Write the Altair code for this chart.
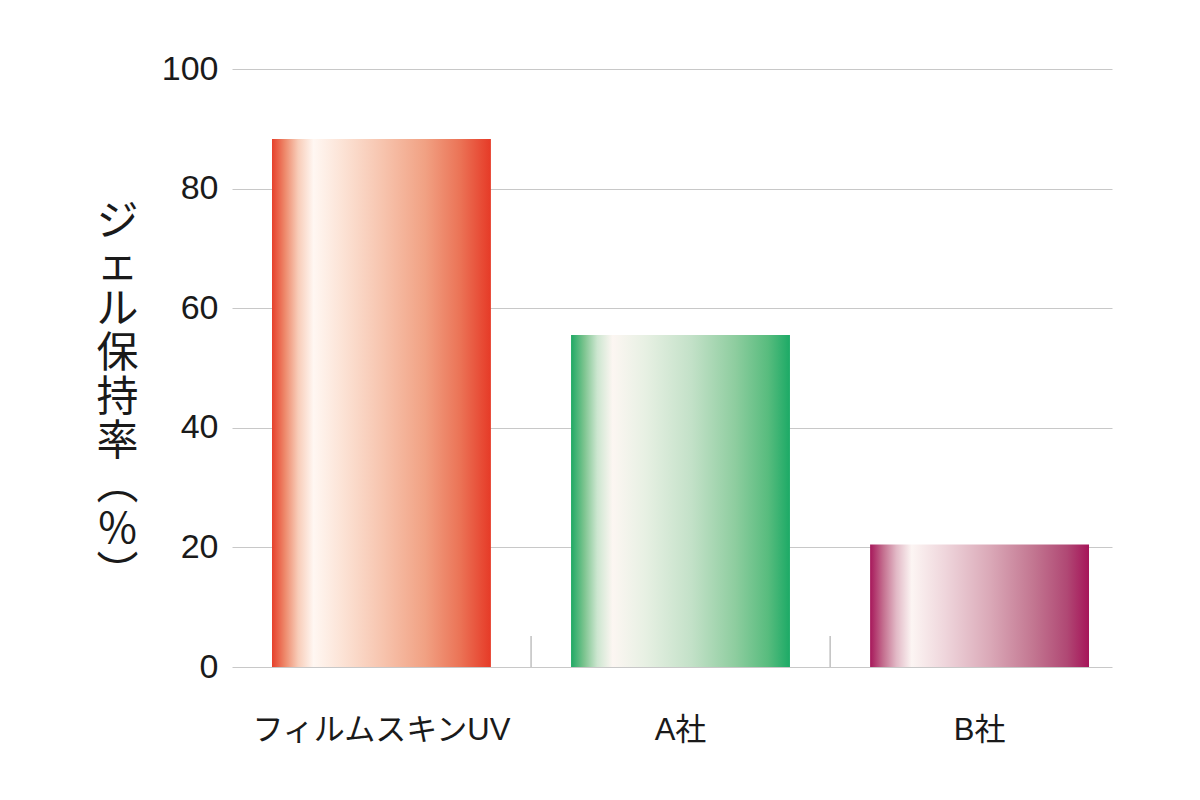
import altair as alt
import pandas as pd

categories = ["フィルムスキンUV", "A社", "B社"]
values = [88.3, 55.5, 20.5]
separators = ["A社", "B社"]
y_ticks = [0, 20, 40, 60, 80, 100]
y_title = ["ジ", "ェ", "ル", "保", "持", "率", "︵", "%", "︶"]

gradients = {
    "フィルムスキンUV": [
        (0.0, "#e6402b"), (0.06, "#ee8a6c"), (0.12, "#f8cdb9"), (0.19, "#fff7f2"),
        (0.32, "#fce3d6"), (0.5, "#f7c5af"), (0.7, "#f1a183"), (0.86, "#eb7356"), (1.0, "#e63a27"),
    ],
    "A社": [
        (0.0, "#1fa964"), (0.06, "#7cc48f"), (0.12, "#cde6d0"), (0.19, "#fcf6f2"),
        (0.34, "#e7f0e3"), (0.55, "#c3e1c8"), (0.75, "#8ecd9f"), (0.9, "#58bc7e"), (1.0, "#1caa66"),
    ],
    "B社": [
        (0.0, "#a7185b"), (0.06, "#c46f8f"), (0.12, "#e2b9c6"), (0.19, "#fcf5f3"),
        (0.34, "#efd6dc"), (0.55, "#daa8b7"), (0.75, "#c27590"), (0.9, "#b04874"), (1.0, "#a61459"),
    ],
}

df = pd.DataFrame({"cat": categories, "val": values})
sep_df = pd.DataFrame({"cat": separators})

label_font = "Liberation Sans, Noto Sans CJK JP"

x_scale = alt.Scale(domain=categories, paddingInner=0.268, paddingOuter=0.1053, align=0.635)
y_scale = alt.Scale(domain=[0, 100], nice=False)

x_axis = alt.Axis(
    title=None, domain=False, ticks=False, grid=False, labelAngle=0, labelFontSize=31,
    labelFont=label_font, labelColor="#1a1a1a", labelPadding=48, labelLimit=0,
)
x_enc = alt.X("cat:N", scale=x_scale, sort=categories, axis=x_axis)
y_enc = alt.Y(
    "val:Q",
    scale=y_scale,
    axis=alt.Axis(
        values=y_ticks, grid=True, gridColor="#c8c8c8", gridWidth=1, domain=False, ticks=False,
        labelFontSize=34, labelFont=label_font, labelColor="#1a1a1a", labelPadding=14,
        title=y_title, titleAngle=0, titleFontSize=42, titleFont="Noto Sans CJK JP",
        titleFontWeight="normal", titleColor="#1a1a1a", titleLineHeight=44,
        titleAlign="center", titleBaseline="middle", titleX=-115, titleY=152,
    ),
)

layers = []
for c in categories:
    stops = [alt.GradientStop(offset=o, color=col) for o, col in gradients[c]]
    layers.append(
        alt.Chart(df)
        .transform_filter(alt.datum.cat == c)
        .mark_bar(
            color=alt.LinearGradient(gradient="linear", stops=stops, x1=0, x2=1, y1=0, y2=0)
        )
        .encode(x=x_enc, y=y_enc)
    )

seps = (
    alt.Chart(sep_df)
    .mark_rule(color="#a0a0a0", strokeWidth=1, xOffset=-40)
    .encode(
        x=alt.X("cat:N", scale=x_scale, sort=categories, bandPosition=0, axis=x_axis),
        y=alt.value(567),
        y2=alt.value(598),
    )
)

chart = (
    alt.layer(*layers, seps)
    .properties(
        width=880,
        height=598,
        background="white",
        autosize=alt.AutoSizeParams(type="none"),
        padding={"left": 224, "top": 61, "right": 80, "bottom": 125},
    )
    .configure_view(stroke=None, strokeWidth=0)
)

chart.save("out.html", embed_options={"renderer": "svg", "actions": False})
